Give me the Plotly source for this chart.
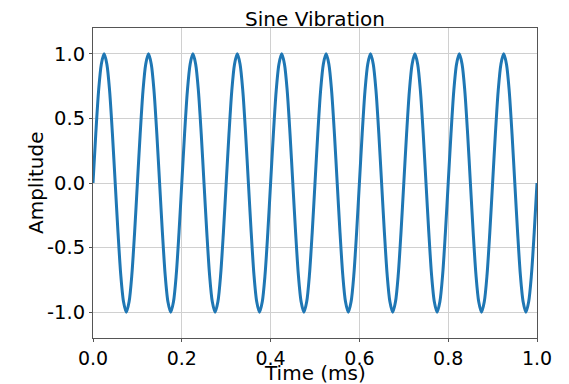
import plotly.graph_objects as go

# Time samples (ms), sixteenth-cycle spacing
time_ms = [round(i * 0.00625, 5) for i in range(161)]
amplitude = [
    0.0, 0.38, 0.71, 0.92, 1.0, 0.92, 0.71, 0.38, 0.0, -0.38, -0.71, -0.92, -1.0, -0.92, -0.71, -0.38,
    0.0, 0.38, 0.71, 0.92, 1.0, 0.92, 0.71, 0.38, 0.0, -0.38, -0.71, -0.92, -1.0, -0.92, -0.71, -0.38,
    0.0, 0.38, 0.71, 0.92, 1.0, 0.92, 0.71, 0.38, 0.0, -0.38, -0.71, -0.92, -1.0, -0.92, -0.71, -0.38,
    0.0, 0.38, 0.71, 0.92, 1.0, 0.92, 0.71, 0.38, 0.0, -0.38, -0.71, -0.92, -1.0, -0.92, -0.71, -0.38,
    0.0, 0.38, 0.71, 0.92, 1.0, 0.92, 0.71, 0.38, 0.0, -0.38, -0.71, -0.92, -1.0, -0.92, -0.71, -0.38,
    0.0, 0.38, 0.71, 0.92, 1.0, 0.92, 0.71, 0.38, 0.0, -0.38, -0.71, -0.92, -1.0, -0.92, -0.71, -0.38,
    0.0, 0.38, 0.71, 0.92, 1.0, 0.92, 0.71, 0.38, 0.0, -0.38, -0.71, -0.92, -1.0, -0.92, -0.71, -0.38,
    0.0, 0.38, 0.71, 0.92, 1.0, 0.92, 0.71, 0.38, 0.0, -0.38, -0.71, -0.92, -1.0, -0.92, -0.71, -0.38,
    0.0, 0.38, 0.71, 0.92, 1.0, 0.92, 0.71, 0.38, 0.0, -0.38, -0.71, -0.92, -1.0, -0.92, -0.71, -0.38,
    0.0, 0.38, 0.71, 0.92, 1.0, 0.92, 0.71, 0.38, 0.0, -0.38, -0.71, -0.92, -1.0, -0.92, -0.71, -0.38,
    0.0,
]
x_ticks = [0.0, 0.2, 0.4, 0.6, 0.8, 1.0]
x_tick_labels = ["0.0", "0.2", "0.4", "0.6", "0.8", "1.0"]
y_ticks = [-1.0, -0.5, 0.0, 0.5, 1.0]
y_tick_labels = ["-1.0", "-0.5", "0.0", "0.5", "1.0"]

fig = go.Figure(go.Scatter(
    x=time_ms, y=amplitude, mode="lines",
    line=dict(color="#1f77b4", width=3, shape="spline", smoothing=0.8),
))

font = "DejaVu Sans"
W, H = 561, 376  # page body has an 8px default margin
L, T, R, B = 85, 20, 32, 46
fig.update_layout(
    width=W, height=H,
    margin=dict(l=L, r=R, t=T, b=B, autoexpand=False),
    paper_bgcolor="white", plot_bgcolor="white",
    showlegend=False,
    font=dict(family=font, size=19, color="black"),
    title=dict(text="Sine Vibration", x=(L + W - R) / 2 / W, xanchor="center",
               y=1 - 11 / H, yanchor="middle",
               font=dict(family=font, size=20, color="black")),
    annotations=[
        dict(text="Time (ms)", xref="paper", yref="paper",
             x=0.5, y=-(364.5 - (H - B)) / (H - T - B),
             xanchor="center", yanchor="middle", showarrow=False,
             font=dict(family=font, size=20, color="black")),
        dict(text="Amplitude", xref="paper", yref="paper",
             x=-(L - 28) / (W - L - R), y=0.5, textangle=-90,
             xanchor="center", yanchor="middle", showarrow=False,
             font=dict(family=font, size=20, color="black")),
    ],
)
axis_common = dict(
    showline=True, linecolor="#555555", linewidth=1, mirror=True,
    showgrid=True, gridcolor="#d0d0d0", gridwidth=1,
    ticks="outside", ticklen=3, tickcolor="#555555", tickwidth=1,
    zeroline=False, automargin=False,
)
fig.update_xaxes(range=[0, 1], tickvals=x_ticks, ticktext=x_tick_labels,
                 tickfont=dict(family=font, size=19, color="black"),
                 **axis_common)
fig.update_yaxes(range=[-1.2, 1.2], tickvals=y_ticks, ticktext=y_tick_labels,
                 tickfont=dict(family=font, size=19.5, color="black"),
                 **axis_common)

fig.write_html("out.html")
